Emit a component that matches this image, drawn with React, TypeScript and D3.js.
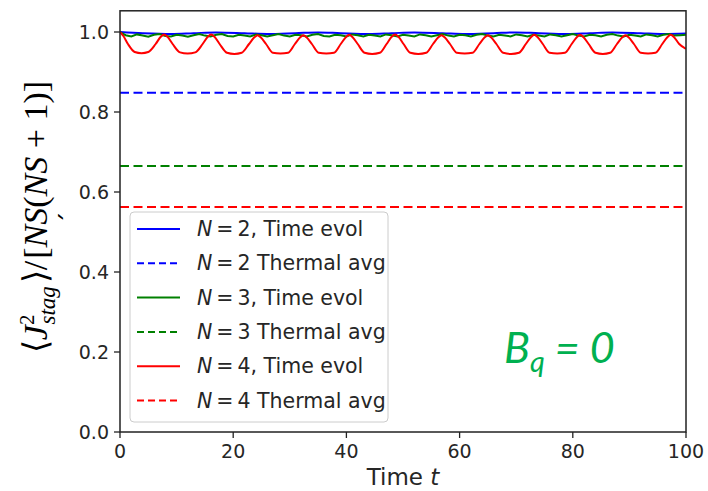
import React from "react";
import * as d3 from "d3";

const xTicks = [0, 20, 40, 60, 80, 100];
const yTicks = [0, 0.2, 0.4, 0.6, 0.8, 1.0];

const thermalN2 = 0.848;
const thermalN3 = 0.665;
const thermalN4 = 0.5625;

const blueT = [0, 4, 9, 13, 17, 22, 26, 31, 35, 39, 44, 48, 52, 57, 61, 66, 70, 74, 79, 83, 87, 92, 96, 100];
const blueV = [1.0, 0.997, 0.995, 0.997, 0.999, 0.997, 0.995, 0.997, 0.999, 0.997, 0.995, 0.997, 0.999, 0.997, 0.995, 0.997, 0.999, 0.997, 0.995, 0.997, 0.999, 0.997, 0.995, 0.996];

const greenV = [
  1.0, 0.992, 0.989, 0.994, 0.991, 0.988, 0.993, 0.995, 0.990, 0.989,
  0.993, 0.991, 0.988, 0.992, 0.995, 0.991, 0.989, 0.993, 0.995, 0.990,
  0.989, 0.993, 0.991, 0.989, 0.994, 0.992, 0.989, 0.992, 0.995, 0.991,
  0.989, 0.993, 0.992, 0.989, 0.993, 0.995, 0.990, 0.989, 0.993, 0.992,
  0.989, 0.994, 0.992, 0.989, 0.993, 0.991, 0.989, 0.994, 0.992, 0.989,
  0.993, 0.991, 0.989, 0.994, 0.992, 0.989, 0.992, 0.995, 0.991, 0.989,
  0.993, 0.992, 0.989, 0.993, 0.995, 0.991, 0.989, 0.993, 0.991, 0.989,
  0.994, 0.992, 0.989, 0.993, 0.991, 0.989, 0.994, 0.992, 0.989, 0.992,
  0.995, 0.991, 0.989, 0.993, 0.992, 0.989, 0.993, 0.995, 0.991, 0.989,
  0.993, 0.991, 0.989, 0.994, 0.992, 0.989, 0.993, 0.995, 0.991, 0.992,
  0.993,
];

const redT = [
  0, 0.6, 1.4, 2.6, 3.8, 5.0, 6.3, 7.2, 7.8, 8.4, 9.3, 10.6, 11.95, 13.3, 14.6, 15.5, 16.1, 16.7,
  17.6, 18.9, 20.2, 21.5, 22.8, 23.7, 24.3, 24.9, 25.8, 27.0, 28.35, 29.7, 30.9, 31.8, 32.4, 33.0,
  33.9, 35.1, 36.45, 37.8, 39.0, 39.9, 40.5, 41.1, 42.0, 43.2, 44.55, 45.9, 47.1, 48.0, 48.6, 49.2,
  50.1, 51.3, 52.7, 54.1, 55.3, 56.2, 56.8, 57.4, 58.3, 59.5, 60.9, 62.3, 63.5, 64.4, 65.0, 65.6,
  66.5, 67.7, 69.1, 70.5, 71.7, 72.6, 73.2, 73.8, 74.7, 75.9, 77.25, 78.6, 79.8, 80.7, 81.3, 81.9,
  82.8, 84.0, 85.3, 86.6, 87.8, 88.7, 89.3, 89.9, 90.8, 92.0, 93.3, 94.6, 95.8, 96.7, 97.3, 97.9,
  98.8, 100,
];
const redV = [
  1.0, 0.99, 0.97, 0.95, 0.947, 0.95, 0.97, 0.988, 0.994, 0.988, 0.97, 0.949, 0.946, 0.949, 0.97, 0.988, 0.994, 0.988,
  0.97, 0.948, 0.945, 0.948, 0.97, 0.986, 0.992, 0.986, 0.97, 0.948, 0.946, 0.948, 0.97, 0.986, 0.992, 0.986,
  0.97, 0.948, 0.946, 0.948, 0.97, 0.987, 0.993, 0.987, 0.97, 0.948, 0.945, 0.948, 0.97, 0.988, 0.994, 0.988,
  0.97, 0.948, 0.945, 0.948, 0.97, 0.986, 0.992, 0.986, 0.97, 0.948, 0.946, 0.948, 0.97, 0.986, 0.992, 0.986,
  0.97, 0.948, 0.945, 0.948, 0.97, 0.987, 0.993, 0.987, 0.97, 0.948, 0.946, 0.948, 0.97, 0.987, 0.993, 0.987,
  0.97, 0.948, 0.945, 0.948, 0.97, 0.986, 0.992, 0.986, 0.97, 0.948, 0.946, 0.948, 0.97, 0.987, 0.993, 0.987,
  0.97, 0.958,
];

const legendLabels = [
  { n: "2", rest: ", Time evol", color: "#0000ff", dashed: false },
  { n: "2", rest: " Thermal avg", color: "#0000ff", dashed: true },
  { n: "3", rest: ", Time evol", color: "#008000", dashed: false },
  { n: "3", rest: " Thermal avg", color: "#008000", dashed: true },
  { n: "4", rest: ", Time evol", color: "#ff0000", dashed: false },
  { n: "4", rest: " Thermal avg", color: "#ff0000", dashed: true },
];

const W = 708;
const H = 491;
const L = 120, R = 686, T = 10.8, B = 432;

export default function App() {
  const x = d3.scaleLinear().domain([0, 100]).range([L, R]);
  const y = d3.scaleLinear().domain([0, 1.053]).range([B, T]);

  const lineMono = d3.line<[number, number]>().x((d) => x(d[0])).y((d) => y(d[1])).curve(d3.curveMonotoneX);
  const lineLin = d3.line<[number, number]>().x((d) => x(d[0])).y((d) => y(d[1]));

  const blue: [number, number][] = blueT.map((t, i) => [t, blueV[i]]);
  const green: [number, number][] = greenV.map((v, i) => [i, v]);
  const red: [number, number][] = redT.map((t, i) => [t, redV[i]]);

  const font = "DejaVu Sans, sans-serif";
  const tickColor = "#262626";
  const dash = "9,4.5";

  const legX = 130, legY = 212, legW = 258, legH = 210;
  const rowY0 = 229, rowDy = 34.3;

  return (
    <svg width={W} height={H} style={{ position: "absolute", left: 0, top: 0 }}>
      <rect x={0} y={0} width={W} height={H} fill="#fff" />
      <defs>
        <clipPath id="plotclip">
          <rect x={L} y={T} width={R - L} height={B - T} />
        </clipPath>
      </defs>
      <g clipPath="url(#plotclip)" fill="none" strokeWidth={2}>
        <path d={lineMono(blue) || ""} stroke="#0000ff" />
        <line x1={x(0)} x2={x(100)} y1={y(thermalN2)} y2={y(thermalN2)} stroke="#0000ff" strokeDasharray={dash} />
        <path d={lineLin(green) || ""} stroke="#008000" />
        <line x1={x(0)} x2={x(100)} y1={y(thermalN3)} y2={y(thermalN3)} stroke="#008000" strokeDasharray={dash} />
        <path d={lineMono(red) || ""} stroke="#ff0000" />
        <line x1={x(0)} x2={x(100)} y1={y(thermalN4)} y2={y(thermalN4)} stroke="#ff0000" strokeDasharray={dash} />
      </g>
      {/* spines */}
      <rect x={L} y={T} width={R - L} height={B - T} fill="none" stroke="#222" strokeWidth={1.5} />
      {/* x ticks */}
      {xTicks.map((t) => (
        <g key={"x" + t}>
          <line x1={x(t)} x2={x(t)} y1={B} y2={B + 6} stroke="#222" strokeWidth={1.3} />
          <text x={x(t)} y={B + 26} textAnchor="middle" fontFamily={font} fontSize={19} fill={tickColor}>
            {t}
          </text>
        </g>
      ))}
      {yTicks.map((t) => (
        <g key={"y" + t}>
          <line x1={L - 6} x2={L} y1={y(t)} y2={y(t)} stroke="#222" strokeWidth={1.3} />
          <text x={L - 11} y={y(t) + 7} textAnchor="end" fontFamily={font} fontSize={19} fill={tickColor}>
            {d3.format(".1f")(t)}
          </text>
        </g>
      ))}
      {/* x label */}
      <text x={(L + R) / 2} y={485} textAnchor="middle" fontFamily={font} fontSize={23} fill={tickColor}>
        Time <tspan fontStyle="italic">t</tspan>
      </text>
      {/* y label */}
      <g transform="translate(47,217) rotate(-90)">
        <text textAnchor="middle" fontFamily="Liberation Serif, serif" fontSize={34} fill="#000">
          <tspan>⟨</tspan>
          <tspan fontStyle="italic">J</tspan>
          <tspan fontSize={21} dy={-13}>2</tspan>
          <tspan fontSize={23} fontStyle="italic" dx={-10} dy={21}>stag</tspan>
          <tspan dx={3} dy={-8}>⟩/</tspan>
          <tspan dx={2}>[</tspan>
          <tspan fontStyle="italic">NS</tspan>
          <tspan>(</tspan>
          <tspan fontStyle="italic">NS</tspan>
          <tspan> + 1)]</tspan>
        </text>
        <text x={-1} y={10} textAnchor="middle" fontFamily="DejaVu Sans, sans-serif" fontSize={26} fill="#000">ˏ</text>
      </g>
      {/* legend */}
      <rect x={legX} y={legY} width={legW} height={legH} rx={4} fill="#fff" fillOpacity={0.8} stroke="#cccccc" strokeWidth={1} />
      {legendLabels.map((d, i) => {
        const cy = rowY0 + i * rowDy;
        return (
          <g key={"leg" + i}>
            <line x1={137} x2={180} y1={cy} y2={cy} stroke={d.color} strokeWidth={2} strokeDasharray={d.dashed ? "7,4" : undefined} />
            <text x={197} y={cy + 7} fontFamily={font} fontSize={20.5} fill={tickColor}>
              <tspan fontStyle="italic">N</tspan>
              <tspan dx={4}>=</tspan>
              <tspan dx={4}>{d.n}</tspan>
              <tspan>{d.rest}</tspan>
            </text>
          </g>
        );
      })}
      {/* annotation */}
      <text x={504} y={363} fontFamily="Lato, sans-serif" fontStyle="italic" fontSize={43} fill="#00b050">
        B<tspan fontSize={29} dy={9}>q</tspan>
        <tspan dy={-9}> = 0</tspan>
      </text>
    </svg>
  );
}
